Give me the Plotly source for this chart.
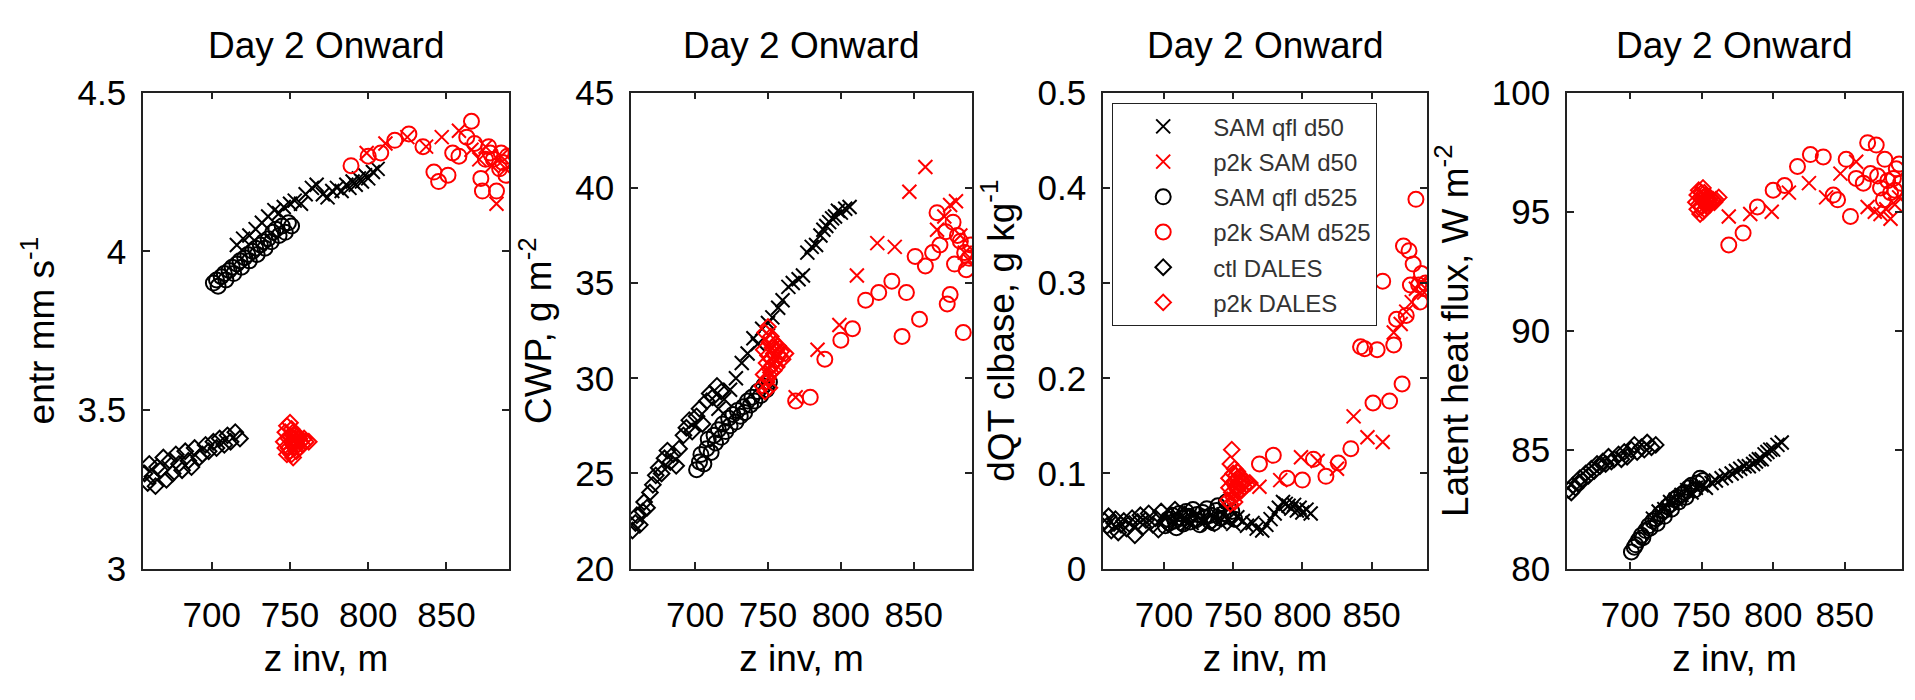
import plotly.graph_objects as go

# ---------------------------------------------------------------------------
# Inversion height (m) of each run, one value per output time
# ---------------------------------------------------------------------------
z_sam_qfl_d50 = [716, 720, 724, 728, 732, 736, 740, 743, 746, 750, 753, 757, 760, 764, 767,
                 771, 774, 777, 780, 783, 786, 788, 790, 792, 794, 796, 798, 800, 803, 806]
z_p2k_sam_d50 = [769, 784, 799, 811, 825, 837, 847, 858, 866, 871, 875, 879, 882, 885, 888]
z_sam_qfl_d525 = [701, 703, 704, 706, 708, 709, 711, 713, 714, 716, 718, 719, 721, 723, 724,
                  726, 728, 729, 731, 733, 734, 736, 738, 739, 741, 743, 745, 747, 749, 751]
z_p2k_sam_d525 = [769, 779, 789, 800, 808, 817, 826, 835, 842, 845, 851, 854, 858, 863, 866,
                  868, 872, 873, 875, 877, 878, 880, 882, 884, 885, 886, 888, 889]
z_ctl_dales = [657, 659, 660, 662, 664, 665, 667, 669, 671, 673, 675, 677, 679, 681, 683,
               685, 687, 689, 692, 694, 696, 698, 701, 703, 705, 708, 710, 712, 715, 718]
z_p2k_dales = [746, 747, 747, 748, 748, 749, 749, 750, 750, 750, 751, 751, 751, 752, 752,
               752, 753, 753, 753, 754, 754, 755, 755, 756, 756, 757, 758, 759, 760, 762]

# ---------------------------------------------------------------------------
# Entrainment rate (mm s-1); None where no value is available
# ---------------------------------------------------------------------------
entr_sam_qfl_d50 = [4.02, 4.04, 4.05, 4.07, 4.09, 4.11, 4.13, 4.12, 4.14, 4.15, 4.16, 4.15, 4.18, 4.20, 4.21,
                    4.18, 4.17, 4.19, 4.20, 4.19, 4.21, 4.20, 4.22, 4.21, 4.23, 4.22, 4.24, 4.23, 4.25, 4.26]
entr_p2k_sam_d50 = [None, None, 4.31, 4.34, 4.36, 4.33, 4.36, 4.38, 4.32, 4.29, 4.33, 4.27, 4.15, 4.30, 4.26]
entr_sam_qfl_d525 = [3.90, 3.91, 3.89, 3.92, 3.93, 3.91, 3.94, 3.95, 3.93, 3.96, 3.97, 3.95, 3.98, 3.99, 3.97,
                     4.00, 4.01, 3.99, 4.02, 4.03, 4.01, 4.04, 4.03, 4.06, 4.07, 4.05, 4.08, 4.06, 4.09, 4.08]
entr_p2k_sam_d525 = [None, None, 4.27, 4.30, 4.31, 4.35, 4.37, 4.33, 4.25, 4.22, 4.24, 4.31, 4.30, 4.36, 4.41,
                     4.34, 4.23, 4.19, 4.29, 4.33, 4.31, 4.29, 4.19, 4.26, 4.31, 4.28, 4.24, 4.30]
entr_ctl_dales = [3.30, 3.27, 3.33, 3.29, 3.26, 3.32, 3.31, 3.35, 3.28, 3.34, 3.30, 3.36, 3.33, 3.31, 3.37,
                  3.34, 3.32, 3.38, 3.35, 3.36, 3.39, 3.37, 3.40, 3.38, 3.41, 3.39, 3.42, 3.40, 3.43, 3.41]
entr_p2k_dales = [3.40, 3.38, 3.43, 3.36, 3.45, 3.41, 3.38, 3.46, 3.42, 3.37, 3.44, 3.40, 3.36, 3.43, 3.39,
                  3.35, 3.42, 3.38, 3.41, 3.40, 3.37, 3.42, 3.39, 3.41, 3.38, 3.40, 3.39, 3.41, 3.40, 3.40]

# ---------------------------------------------------------------------------
# Cloud water path (g m-2)
# ---------------------------------------------------------------------------
cwp_sam_qfl_d50 = [28.4, 28.9, 29.4, 30.0, 30.8, 31.3, 32.1, 31.8, 32.6, 32.9, 33.2, 33.7, 34.1, 34.8, 35.0,
                   35.2, 35.4, 36.6, 36.9, 37.0, 37.5, 37.8, 38.0, 38.2, 38.4, 38.5, 38.8, 38.7, 38.9, 39.0]
cwp_p2k_sam_d50 = [29.0, 31.5, 32.8, 35.4, 37.1, 36.9, 39.8, 41.1, 37.8, 38.5, 39.1, 39.3, 37.5, 36.6, 36.2]
cwp_sam_qfl_d525 = [25.2, 25.6, 26.0, 25.5, 26.3, 26.8, 26.1, 27.0, 26.6, 27.3, 26.9, 27.6, 27.2, 27.9, 27.5,
                    28.1, 27.7, 28.3, 28.0, 28.5, 28.2, 28.8, 28.6, 29.0, 28.8, 29.3, 29.1, 29.6, 29.4, 29.8]
cwp_p2k_sam_d525 = [28.8, 29.0, 31.0, 32.0, 32.6, 34.1, 34.5, 35.1, 32.2, 34.5, 36.4, 33.1, 35.9, 36.6, 38.7,
                    37.0, 37.7, 33.9, 34.4, 38.2, 36.0, 37.5, 37.2, 32.4, 36.6, 35.7, 36.3, 37.0]
cwp_ctl_dales = [22.0, 22.4, 22.8, 22.3, 23.0, 23.5, 23.2, 24.0, 24.4, 24.9, 25.3, 25.0, 25.8, 26.2, 25.6,
                 26.0, 25.4, 26.3, 27.0, 27.4, 27.8, 27.2, 28.0, 28.4, 27.6, 28.8, 29.2, 29.0, 29.6, 29.3]
cwp_p2k_dales = [29.6, 30.2, 31.5, 29.3, 32.4, 30.8, 29.8, 32.7, 31.2, 30.0, 31.9, 30.5, 29.5, 32.2, 31.0,
                 30.3, 31.6, 30.7, 32.0, 31.3, 30.4, 31.8, 30.9, 31.5, 30.6, 31.7, 31.2, 31.4, 31.0, 31.3]

# ---------------------------------------------------------------------------
# Total-water jump at cloud base (g kg-1)
# ---------------------------------------------------------------------------
dqt_sam_qfl_d50 = [0.052, 0.048, 0.055, 0.050, 0.046, 0.053, 0.049, 0.057, 0.051, 0.047, 0.054, 0.050, 0.045, 0.048, 0.042,
                   0.040, 0.046, 0.052, 0.058, 0.064, 0.070, 0.068, 0.066, 0.063, 0.067, 0.061, 0.064, 0.059, 0.062, 0.058]
dqt_p2k_sam_d50 = [0.086, 0.093, 0.117, 0.113, 0.105, 0.160, 0.138, 0.133, 0.248, 0.257, 0.270, 0.280, 0.294, 0.300, 0.290]
dqt_sam_qfl_d525 = [0.045, 0.052, 0.048, 0.056, 0.050, 0.043, 0.058, 0.053, 0.047, 0.060, 0.055, 0.049, 0.062, 0.051, 0.057,
                    0.046, 0.059, 0.054, 0.063, 0.050, 0.056, 0.048, 0.061, 0.066, 0.053, 0.058, 0.070, 0.055, 0.060, 0.052]
dqt_p2k_sam_d525 = [0.110, 0.119, 0.095, 0.093, 0.115, 0.097, 0.111, 0.126, 0.233, 0.231, 0.174, 0.230, 0.302, 0.176, 0.235,
                    0.262, 0.194, 0.339, 0.266, 0.334, 0.298, 0.320, 0.388, 0.298, 0.280, 0.310, 0.294, 0.300]
dqt_ctl_dales = [0.050, 0.045, 0.055, 0.040, 0.048, 0.052, 0.038, 0.046, 0.050, 0.042, 0.047, 0.053, 0.035, 0.049, 0.056,
                 0.044, 0.051, 0.058, 0.046, 0.053, 0.041, 0.060, 0.050, 0.047, 0.055, 0.062, 0.052, 0.048, 0.057, 0.054]
dqt_p2k_dales = [0.072, 0.085, 0.095, 0.068, 0.110, 0.125, 0.080, 0.100, 0.090, 0.075, 0.105, 0.092, 0.070, 0.098, 0.086,
                 0.078, 0.095, 0.083, 0.102, 0.090, 0.080, 0.097, 0.088, 0.093, 0.082, 0.090, 0.086, 0.092, 0.088, 0.090]

# ---------------------------------------------------------------------------
# Surface latent heat flux (W m-2)
# ---------------------------------------------------------------------------
lhf_sam_qfl_d50 = [82.1, 82.4, 82.5, 82.8, 82.9, 83.1, 83.3, 83.2, 83.4, 83.5, 83.4, 83.6, 83.7, 83.8, 83.9,
                   84.0, 84.1, 84.2, 84.3, 84.3, 84.4, 84.5, 84.6, 84.6, 84.8, 84.9, 85.0, 85.0, 85.2, 85.3]
lhf_p2k_sam_d50 = [94.8, 94.9, 95.0, 95.8, 96.2, 95.6, 96.6, 97.1, 95.2, 95.0, 94.9, 95.1, 94.7, 95.3, 95.6]
lhf_sam_qfl_d525 = [80.7, 80.9, 81.0, 81.2, 81.4, 81.3, 81.6, 81.8, 81.7, 82.0, 82.1, 81.9, 82.3, 82.4, 82.2,
                    82.6, 82.7, 82.5, 82.9, 83.0, 82.8, 83.1, 83.2, 83.0, 83.4, 83.5, 83.3, 83.6, 83.8, 83.7]
lhf_p2k_sam_d525 = [93.6, 94.1, 95.2, 95.9, 96.1, 96.9, 97.4, 97.3, 95.7, 95.5, 97.2, 94.8, 96.4, 96.2, 97.9,
                    96.6, 97.8, 96.5, 96.0, 95.5, 97.2, 96.3, 95.8, 96.4, 95.9, 96.8, 97.0, 96.2]
lhf_ctl_dales = [83.3, 83.2, 83.5, 83.4, 83.6, 83.8, 83.7, 84.0, 83.9, 84.2, 84.1, 84.4, 84.3, 84.5, 84.4,
                 84.7, 84.5, 84.6, 84.8, 84.6, 84.9, 84.7, 85.0, 85.2, 84.9, 85.1, 85.0, 85.3, 85.1, 85.2]
lhf_p2k_dales = [95.4, 95.7, 95.1, 95.9, 95.3, 95.6, 94.9, 95.8, 95.2, 95.5, 96.0, 95.0, 95.6, 95.4, 95.8,
                 95.1, 95.5, 95.3, 95.7, 95.2, 95.6, 95.4, 95.5, 95.3, 95.6, 95.4, 95.5, 95.4, 95.5, 95.6]

# ---------------------------------------------------------------------------
# Axis ticks and labels
# ---------------------------------------------------------------------------
x_ticks = [700, 750, 800, 850]
x_range = [656, 890]
panel_title = "Day 2 Onward"
x_title = "z inv, m"
y_titles = ["entr mm s<sup>-1</sup>", "CWP, g m<sup>-2</sup>",
            "dQT clbase, g kg<sup>-1</sup>", "Latent heat flux, W m<sup>-2</sup>"]
y_ranges = [[3, 4.5], [20, 45], [0, 0.5], [80, 100]]
y_ticks = [[3, 3.5, 4, 4.5], [20, 25, 30, 35, 40, 45],
           [0, 0.1, 0.2, 0.3, 0.4, 0.5], [80, 85, 90, 95, 100]]
y_ticktext = [["3", "3.5", "4", "4.5"], ["20", "25", "30", "35", "40", "45"],
              ["0", "0.1", "0.2", "0.3", "0.4", "0.5"], ["80", "85", "90", "95", "100"]]

# ---------------------------------------------------------------------------
# Run definitions: name, colour, marker, z, values for the four panels
# ---------------------------------------------------------------------------
runs = [
    ("SAM qfl d50", "black", "x-thin-open", z_sam_qfl_d50,
     [entr_sam_qfl_d50, cwp_sam_qfl_d50, dqt_sam_qfl_d50, lhf_sam_qfl_d50]),
    ("p2k SAM d50", "red", "x-thin-open", z_p2k_sam_d50,
     [entr_p2k_sam_d50, cwp_p2k_sam_d50, dqt_p2k_sam_d50, lhf_p2k_sam_d50]),
    ("SAM qfl d525", "black", "circle-open", z_sam_qfl_d525,
     [entr_sam_qfl_d525, cwp_sam_qfl_d525, dqt_sam_qfl_d525, lhf_sam_qfl_d525]),
    ("p2k SAM d525", "red", "circle-open", z_p2k_sam_d525,
     [entr_p2k_sam_d525, cwp_p2k_sam_d525, dqt_p2k_sam_d525, lhf_p2k_sam_d525]),
    ("ctl DALES", "black", "diamond-open", z_ctl_dales,
     [entr_ctl_dales, cwp_ctl_dales, dqt_ctl_dales, lhf_ctl_dales]),
    ("p2k DALES", "red", "diamond-open", z_p2k_dales,
     [entr_p2k_dales, cwp_p2k_dales, dqt_p2k_dales, lhf_p2k_dales]),
]

marker_size = {"x-thin-open": 14, "circle-open": 15, "diamond-open": 12}

W, H = 1915, 700
# horizontal extents of the four axes boxes (px)
x_px = [(143, 509), (631, 972), (1103, 1427), (1567, 1902)]
y_top_px, y_bot_px = 77, 581
FONT = "Liberation Sans, Arial, Helvetica, sans-serif"

fig = go.Figure()

for p in range(4):
    xa = "x" if p == 0 else f"x{p + 1}"
    ya = "y" if p == 0 else f"y{p + 1}"
    for name, color, symbol, z, vals in runs:
        fig.add_trace(go.Scatter(
            x=z, y=vals[p], mode="markers", name=name,
            xaxis=xa, yaxis=ya,
            legendgroup=name, showlegend=(p == 0),
            marker=dict(symbol=symbol, size=marker_size[symbol], color=color,
                        line=dict(color=color, width=2)),
        ))

axis_style = dict(
    showline=True, linecolor="#222222", linewidth=1.5, mirror="ticks",
    ticks="inside", ticklen=7, tickwidth=1.5, tickcolor="#222222",
    showgrid=False, zeroline=False,
    tickfont=dict(family=FONT, size=35, color="black"),
)

layout = dict(
    width=W, height=H,
    margin=dict(l=0, r=0, t=0, b=0),
    paper_bgcolor="white", plot_bgcolor="white",
    font=dict(family=FONT, color="black"),
    legend=dict(
        x=1112 / W, y=1 - 88 / H, xanchor="left", yanchor="top",
        bgcolor="white", bordercolor="#222222", borderwidth=1.2,
        font=dict(family=FONT, size=24, color="#333333"),
        itemwidth=90, tracegroupgap=1, traceorder="grouped",
    ),
    annotations=[],
)

for p in range(4):
    xkey = "xaxis" if p == 0 else f"xaxis{p + 1}"
    ykey = "yaxis" if p == 0 else f"yaxis{p + 1}"
    anchor_x = "y" if p == 0 else f"y{p + 1}"
    anchor_y = "x" if p == 0 else f"x{p + 1}"
    x0, x1 = x_px[p]
    layout[xkey] = dict(
        axis_style, domain=[x0 / W, x1 / W], anchor=anchor_x,
        range=x_range, tickvals=x_ticks, ticklabelstandoff=15,
        title=dict(text=x_title, font=dict(family=FONT, size=37), standoff=12),
    )
    layout[ykey] = dict(
        axis_style, domain=[1 - y_bot_px / H, 1 - y_top_px / H], anchor=anchor_y,
        range=y_ranges[p], tickvals=y_ticks[p], ticktext=y_ticktext[p],
        ticklabelstandoff=8,
        title=dict(text=y_titles[p], font=dict(family=FONT, size=37), standoff=12),
    )
    layout["annotations"].append(dict(
        text=panel_title, xref="paper", yref="paper",
        x=(x0 + x1) / 2 / W, y=1 - 27 / H, xanchor="center", yanchor="middle",
        showarrow=False, font=dict(family=FONT, size=37, color="black"),
    ))

fig.update_layout(layout)
fig.write_html("out.html")
